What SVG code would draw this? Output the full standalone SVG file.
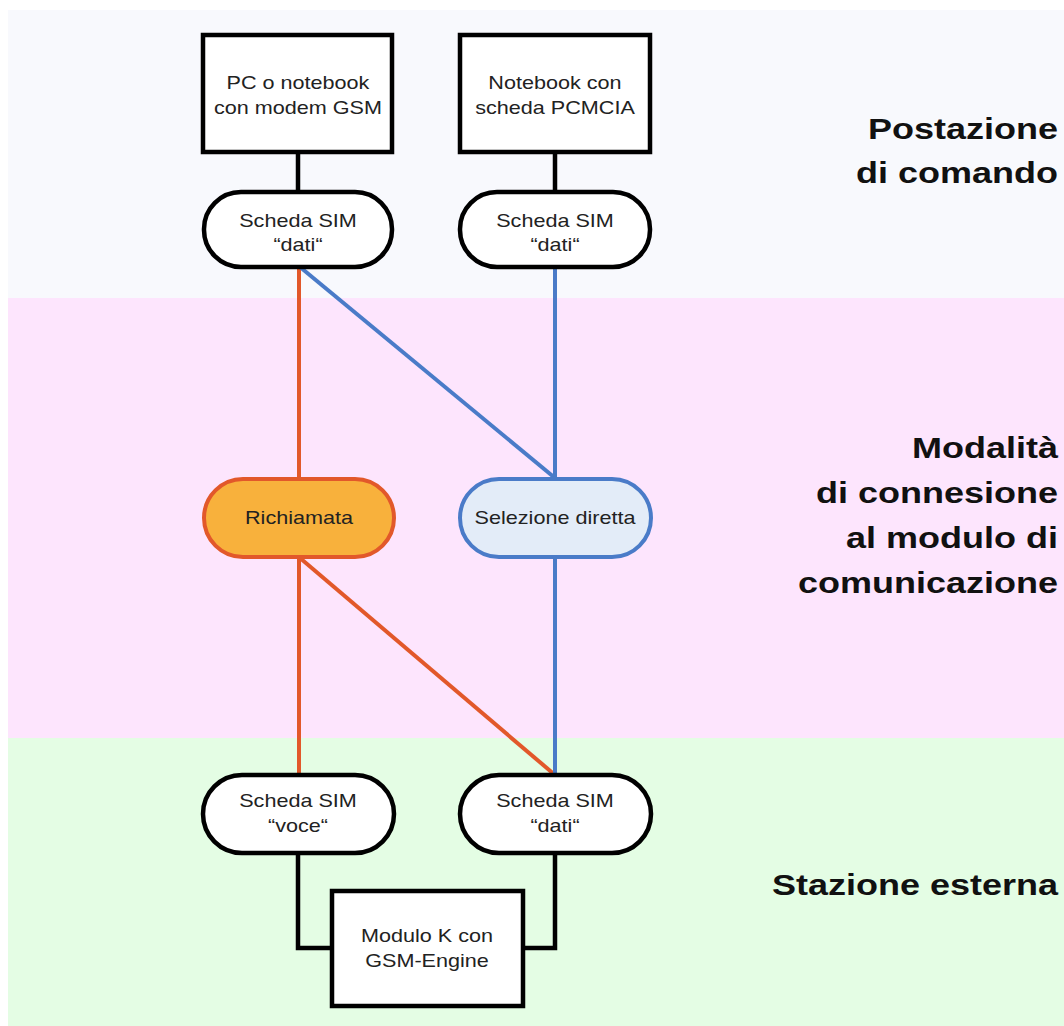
<svg xmlns="http://www.w3.org/2000/svg" width="1064" height="1026" viewBox="0 0 1064 1026">
<style>
.nt{font-family:"Liberation Sans",Arial,sans-serif;font-size:18px;fill:#222;text-anchor:middle}
.lb{font-family:"Liberation Sans",Arial,sans-serif;font-size:30px;font-weight:bold;fill:#111;text-anchor:end}
.blk{fill:#fff;stroke:#000;stroke-width:4.5}
.k{fill:none;stroke:#000;stroke-width:4.5}
.r{fill:none;stroke:#e2582a;stroke-width:4}
.b{fill:none;stroke:#4a7bc8;stroke-width:4}
</style>
<rect width="1064" height="1026" fill="#fff"/>
<g id="bands">
<rect x="8" y="10" width="1056" height="288" fill="#f8f9fd"/>
<rect x="8" y="298" width="1056" height="440" fill="#fde5fd"/>
<rect x="8" y="738" width="1056" height="288" fill="#e4fde4"/>
</g>
<g id="connectors">
<line class="k" x1="298" y1="152" x2="298" y2="192"/>
<line class="k" x1="555" y1="152" x2="555" y2="192"/>
<polyline class="k" points="298,853 298,948 332,948"/>
<polyline class="k" points="555,853 555,948 523,948"/>
<line class="r" x1="299" y1="267" x2="299" y2="478"/>
<line class="r" x1="299" y1="558" x2="299" y2="775"/>
<line class="r" x1="300" y1="558" x2="555" y2="775"/>
<line class="b" x1="300" y1="267" x2="555" y2="478"/>
<line class="b" x1="555" y1="267" x2="555" y2="478"/>
<line class="b" x1="555" y1="558" x2="555" y2="775"/>
</g>
<g id="pc">
<rect class="blk" x="203" y="35" width="189" height="117"/>
<text class="nt" transform="translate(298,89) scale(1.2,1)"><tspan x="0" y="0">PC o notebook</tspan><tspan x="0" y="25">con modem GSM</tspan></text>
</g>
<g id="notebook">
<rect class="blk" x="460" y="35" width="190" height="117"/>
<text class="nt" transform="translate(555,89) scale(1.2,1)"><tspan x="0" y="0">Notebook con</tspan><tspan x="0" y="25">scheda PCMCIA</tspan></text>
</g>
<g id="sim1">
<rect class="blk" x="204" y="192" width="188" height="75" rx="37" ry="37"/>
<text class="nt" transform="translate(298,227) scale(1.2,1)"><tspan x="0" y="0">Scheda SIM</tspan><tspan x="0" y="24">“dati“</tspan></text>
</g>
<g id="sim2">
<rect class="blk" x="460" y="192" width="190" height="75" rx="37" ry="37"/>
<text class="nt" transform="translate(555,227) scale(1.2,1)"><tspan x="0" y="0">Scheda SIM</tspan><tspan x="0" y="24">“dati“</tspan></text>
</g>
<g id="richiamata">
<rect x="204" y="479" width="190" height="78" rx="39" ry="39" fill="#f8b13c" stroke="#e2582a" stroke-width="4"/>
<text class="nt" transform="translate(299,524) scale(1.2,1)">Richiamata</text>
</g>
<g id="selezione">
<rect x="460" y="479" width="191" height="78" rx="39" ry="39" fill="#e3ecf8" stroke="#4a7bc8" stroke-width="4"/>
<text class="nt" transform="translate(555,524) scale(1.2,1)">Selezione diretta</text>
</g>
<g id="sim-voce">
<rect class="blk" x="203" y="775" width="191" height="78" rx="39" ry="39"/>
<text class="nt" transform="translate(298,807) scale(1.2,1)"><tspan x="0" y="0">Scheda SIM</tspan><tspan x="0" y="25">“voce“</tspan></text>
</g>
<g id="sim-dati">
<rect class="blk" x="460" y="775" width="191" height="78" rx="39" ry="39"/>
<text class="nt" transform="translate(555,807) scale(1.2,1)"><tspan x="0" y="0">Scheda SIM</tspan><tspan x="0" y="25">“dati“</tspan></text>
</g>
<g id="modulo">
<rect class="blk" x="332" y="891" width="191" height="115"/>
<text class="nt" transform="translate(427,942) scale(1.2,1)"><tspan x="0" y="0">Modulo K con</tspan><tspan x="0" y="25">GSM-Engine</tspan></text>
</g>
<g id="labels">
<text class="lb" transform="translate(1058,139) scale(1.2,1)"><tspan x="0" y="0">Postazione</tspan><tspan x="0" y="44">di comando</tspan></text>
<text class="lb" transform="translate(1058,458) scale(1.2,1)"><tspan x="0" y="0">Modalità</tspan><tspan x="0" y="45">di connesione</tspan><tspan x="0" y="90">al modulo di</tspan><tspan x="0" y="135">comunicazione</tspan></text>
<text class="lb" transform="translate(1058,895) scale(1.2,1)">Stazione esterna</text>
</g>
</svg>
